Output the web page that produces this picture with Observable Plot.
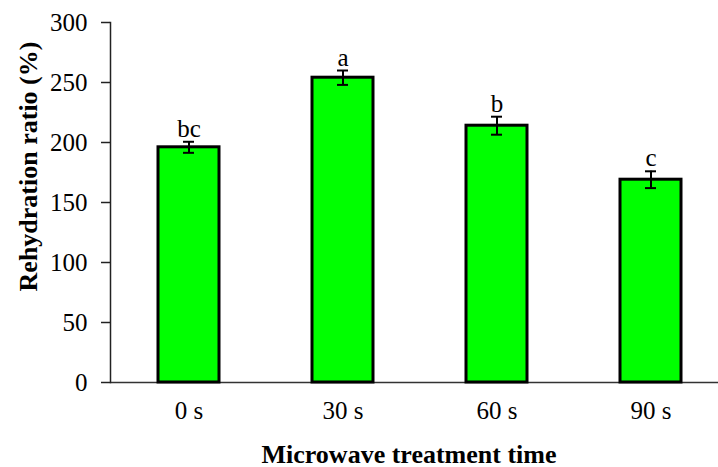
<!DOCTYPE html>
<html>
<head>
<meta charset="utf-8">
<script src="https://cdn.jsdelivr.net/npm/d3@7"></script>
<script src="https://cdn.jsdelivr.net/npm/@observablehq/plot@0.6"></script>
<style>
  html, body { margin: 0; padding: 0; background: white; overflow: hidden; }
  #chart { width: 718px; height: 467px; overflow: hidden; }
</style>
</head>
<body>
<div id="chart"></div>
<script>
const times = ["0 s", "30 s", "60 s", "90 s"];
const ratios = [196, 254, 214, 169];
const errors = [4.6, 6, 7.5, 7];
const letters = ["bc", "a", "b", "c"];
const yTicks = [0, 50, 100, 150, 200, 250, 300];

const data = times.map((t, i) => ({time: t, value: ratios[i], err: errors[i], letter: letters[i]}));

const font = "Liberation Serif";

const plot = Plot.plot({
  width: 718,
  height: 467,
  marginLeft: 110,
  marginRight: -11,
  marginTop: 22,
  marginBottom: 85,
  x: {domain: times, paddingInner: 0.606, paddingOuter: 0.303, label: null},
  y: {domain: [0, 300], label: null},
  marks: [
    Plot.ruleY([0], {stroke: "#333", strokeWidth: 1.5}),
    Plot.frame({anchor: "left", stroke: "#222", strokeWidth: 1.5}),
    Plot.barY(data, {x: "time", y: "value", fill: "#00ff00", stroke: "black", strokeWidth: 3}),
    Plot.ruleX(data, {x: "time", y1: d => d.value - d.err, y2: d => d.value + d.err, stroke: "black", strokeWidth: 2}),
    Plot.tickY(data, {x: "time", y: d => d.value - d.err, stroke: "black", strokeWidth: 2, insetLeft: 25, insetRight: 25}),
    Plot.tickY(data, {x: "time", y: d => d.value + d.err, stroke: "black", strokeWidth: 2, insetLeft: 25, insetRight: 25}),
    Plot.text(data, {x: "time", y: d => d.value + d.err, text: "letter", dy: -5, lineAnchor: "bottom", fontSize: 25, fontFamily: font, fill: "black"}),
    Plot.axisY({ticks: yTicks, tickSize: 9, tickPadding: 14, tickFormat: d => String(d), label: null, fontSize: 25, fontFamily: font, fill: "black", stroke: "#222", strokeWidth: 1.5}),
    Plot.axisX({tickSize: 0, tickPadding: 19, label: null, fontSize: 25, fontFamily: font, fill: "black"}),
    Plot.text(["Microwave treatment time"], {frameAnchor: "bottom", dx: -11, dy: 80, lineAnchor: "bottom", textAnchor: "middle", fontWeight: "bold", fontSize: 26, fontFamily: font, fill: "black"}),
    Plot.text(["Rehydration ratio (%)"], {frameAnchor: "left", textAnchor: "middle", rotate: -90, dx: -82, dy: -36, fontWeight: "bold", fontSize: 26, fontFamily: font, fill: "black"})
  ]
});

d3.select(plot).style("font-family", font).style("background", "white");

document.getElementById("chart").appendChild(plot);
</script>
</body>
</html>
